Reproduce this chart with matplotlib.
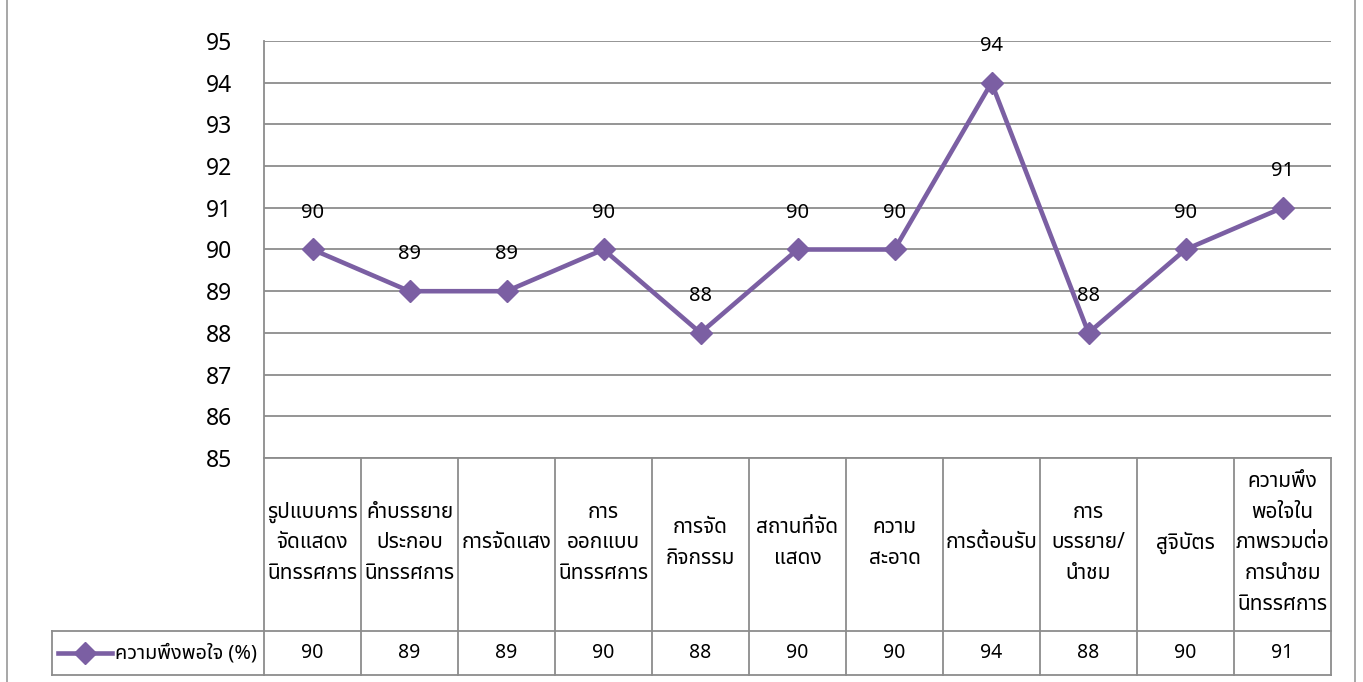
import matplotlib
matplotlib.use("Agg")
import matplotlib.pyplot as plt
from matplotlib import font_manager
from matplotlib.ft2font import FT2Font
from matplotlib.lines import Line2D

categories = [
    "รูปแบบการ\nจัดแสดง\nนิทรรศการ",
    "คำบรรยาย\nประกอบ\nนิทรรศการ",
    "การจัดแสง",
    "การ\nออกแบบ\nนิทรรศการ",
    "การจัด\nกิจกรรม",
    "สถานที่จัด\nแสดง",
    "ความ\nสะอาด",
    "การต้อนรับ",
    "การ\nบรรยาย/\nนำชม",
    "สูจิบัตร",
    "ความพึง\nพอใจใน\nภาพรวมต่อ\nการนำชม\nนิทรรศการ",
]
values = [90, 89, 89, 90, 88, 90, 90, 94, 88, 90, 91]
series_name = "ความพึงพอใจ (%)"
yticks = [85, 86, 87, 88, 89, 90, 91, 92, 93, 94, 95]

# find a font with Thai glyphs
cands = []
for fe in font_manager.fontManager.ttflist:
    try:
        cm = FT2Font(fe.fname).get_charmap()
        if 0x0E01 in cm and 0x0E33 in cm:
            cands.append(fe.name)
    except Exception:
        pass
cands = sorted(set(cands))
thai_font = None
for p in ["Noto Sans Thai", "Noto Sans Thai UI", "Loma", "Garuda", "Sarabun"]:
    if p in cands:
        thai_font = p
        break
if thai_font is None and cands:
    thai_font = cands[0]
families = ([thai_font] if thai_font else []) + ["DejaVu Sans"]
plt.rcParams["font.family"] = families
plt.rcParams["font.weight"] = "light"

W, H = 1363, 682
fig = plt.figure(figsize=(W / 100, H / 100), dpi=100)

L, R, T, B = 264, 1331, 41, 458
ax = fig.add_axes([L / W, 1 - B / H, (R - L) / W, (B - T) / H])
n = len(categories)
xs = [i + 0.5 for i in range(n)]
purple = "#7b5fa3"
grid_c = "#8c8c8c"

ax.set_xlim(0, n)
ax.set_ylim(yticks[0], yticks[-1])
ax.set_yticks(yticks)
ax.set_yticklabels([str(t) for t in yticks], fontsize=16.5, family=families)
ax.tick_params(axis="y", length=0, pad=23)
ax.set_xticks([])
ax.yaxis.grid(True, color=grid_c, linewidth=1.3)
ax.set_axisbelow(True)
for s in ["top", "right", "bottom"]:
    ax.spines[s].set_visible(False)
ax.spines["left"].set_color(grid_c)
ax.spines["left"].set_linewidth(1.3)

ax.plot(xs, values, color=purple, linewidth=3.3, marker="D", markersize=11,
        markerfacecolor=purple, markeredgecolor=purple, zorder=5, clip_on=False)
for x, v in zip(xs, values):
    ax.annotate(str(v), (x, v), xytext=(0, 26.5), textcoords="offset points",
                ha="center", va="center", fontsize=14.5)

# table (x in data coords, y in axes fraction)
tr = ax.get_xaxis_transform()
ah = B - T
y_hdr_bot = -(631 - B) / ah
y_row_bot = -(675 - B) / ah
lw = 1.3
for i in range(n + 1):
    ax.add_line(Line2D([i, i], [0, y_row_bot], transform=tr, color=grid_c, lw=lw, clip_on=False))
for yy in [0, y_hdr_bot, y_row_bot]:
    ax.add_line(Line2D([0, n], [yy, yy], transform=tr, color=grid_c, lw=lw, clip_on=False))
for i, (c, v) in enumerate(zip(categories, values)):
    ax.text(i + 0.5, y_hdr_bot / 2 + 0.004, c, transform=tr, ha="center", va="center",
            fontsize=15, linespacing=1.6, clip_on=False)
    ax.text(i + 0.5, (y_hdr_bot + y_row_bot) / 2, str(v), transform=tr,
            ha="center", va="center", fontsize=14, clip_on=False)

# overlay in pixel coords for the series-label cell and outer border
ov = fig.add_axes([0, 0, 1, 1], facecolor="none")
ov.set_xlim(0, W)
ov.set_ylim(H, 0)
ov.axis("off")
for (x0, x1, y0, y1) in [(52, L, 631, 631), (52, L, 675, 675), (52, 52, 631, 675)]:
    ov.add_line(Line2D([x0, x1], [y0, y1], color=grid_c, lw=lw))
ov.add_line(Line2D([58, 112], [653, 653], color=purple, lw=3.3))
ov.plot([85], [653], marker="D", markersize=11, color=purple)
ov.text(115, 654, series_name, ha="left", va="center", fontsize=14.3)
# outer border
ov.add_line(Line2D([7, 7], [0, H], color="#a0a0a0", lw=1.3))
ov.add_line(Line2D([1355, 1355], [0, H], color="#a0a0a0", lw=1.3))

fig.savefig("out.png", dpi=100)
